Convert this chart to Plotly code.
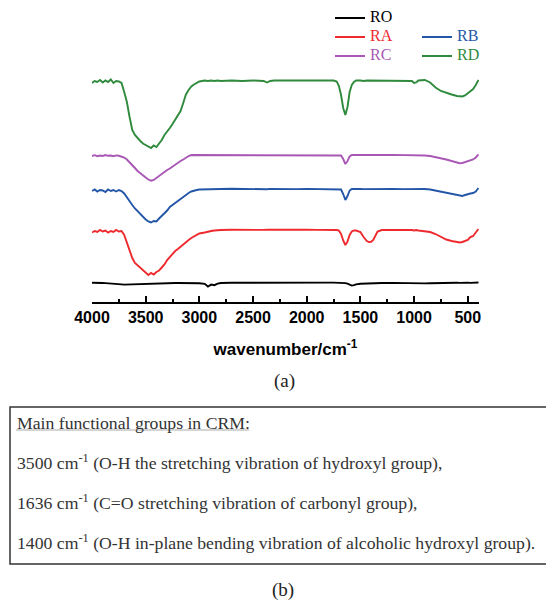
import plotly.graph_objects as go

# FTIR spectra of the CRM samples (stacked, transmittance in arbitrary units)
wavenumber = [
    4000, 3975, 3950, 3925, 3900, 3875, 3850, 3825, 3800, 3775,
    3750, 3725, 3700, 3675, 3650, 3625, 3600, 3575, 3550, 3525,
    3500, 3475, 3450, 3425, 3400, 3375, 3350, 3325, 3300, 3275,
    3250, 3225, 3200, 3175, 3150, 3125, 3100, 3075, 3050, 3025,
    3000, 2950, 2920, 2890, 2860, 2830, 2800, 2700, 2600, 2500,
    2400, 2370, 2340, 2300, 2200, 2100, 2000, 1900, 1800, 1750,
    1720, 1700, 1680, 1660, 1640, 1620, 1600, 1580, 1560, 1540,
    1500, 1470, 1440, 1420, 1400, 1380, 1360, 1340, 1300, 1200,
    1100, 1050, 1020, 1000, 980, 960, 900, 850, 800, 750,
    700, 650, 600, 575, 550, 525, 500, 475, 450, 425, 400,
]

ro = [
    19.3, 19.4, 19.1, 19.2, 19.0, 18.9, 18.8, 18.6, 18.5, 18.3,
    18.0, 17.6, 17.4, 17.5, 17.8, 18.0, 18.2, 18.3, 18.4, 18.5,
    18.5, 18.6, 18.6, 18.7, 18.7, 18.8, 18.8, 18.8, 18.9, 18.9,
    18.9, 19.0, 19.0, 19.0, 19.0, 19.0, 19.1, 19.0, 19.0, 18.9,
    18.8, 18.2, 15.5, 17.4, 16.8, 18.4, 19.0, 19.2, 19.3, 19.3,
    19.4, 19.3, 19.4, 19.4, 19.3, 19.4, 19.4, 19.3, 19.4, 19.4,
    19.3, 19.4, 19.3, 19.2, 18.9, 18.3, 17.0, 16.4, 16.8, 17.6,
    18.2, 18.4, 18.6, 18.7, 18.8, 18.8, 18.9, 18.9, 19.0, 19.1,
    18.8, 18.5, 18.3, 18.2, 18.2, 18.3, 18.6, 18.8, 19.0, 19.1,
    19.1, 19.2, 19.2, 19.1, 19.3, 19.2, 19.3, 19.1, 19.4, 19.2, 19.5,
]

ra = [
    69.5, 71.0, 70.0, 72.0, 70.5, 71.5, 69.5, 71.0, 70.0, 72.0,
    70.5, 71.0, 67.0, 59.0, 51.0, 44.0, 39.0, 36.5, 33.5, 31.0,
    28.5, 27.0, 29.0, 27.5, 30.0, 31.5, 34.5, 37.5, 42.0, 45.0,
    48.5, 51.0, 53.0, 55.5, 57.5, 59.5, 62.0, 64.0, 65.5, 67.5,
    68.5, 69.5, 70.5, 71.0, 71.5, 72.0, 72.0, 72.3, 72.0, 72.4,
    72.1, 72.3, 72.0, 72.2, 72.4, 72.0, 72.3, 72.1, 72.2, 72.0,
    72.0, 71.5, 68.0, 61.5, 57.0, 60.5, 67.0, 70.5, 71.5, 71.5,
    70.0, 65.0, 61.0, 60.0, 60.2, 62.0, 66.5, 70.5, 72.0, 72.2,
    72.0, 72.3, 72.0, 71.5, 72.0, 71.5, 71.0, 70.0, 68.0, 65.5,
    62.5, 61.0, 59.5, 59.5, 60.0, 61.0, 62.0, 65.0, 66.0, 69.5, 73.0,
]

rb = [
    111.0, 112.5, 110.5, 112.0, 111.5, 110.0, 112.5, 111.0, 112.0, 110.5,
    112.0, 111.0, 108.5, 104.5, 100.0, 97.0, 93.5, 90.5, 87.5, 85.0,
    82.5, 80.5, 79.5, 81.0, 80.5, 83.5, 86.0, 88.5, 91.5, 95.0,
    97.0, 99.5, 101.0, 103.0, 105.0, 107.0, 109.0, 110.5, 111.5, 112.0,
    112.5, 112.8, 113.0, 112.7, 113.0, 112.8, 113.0, 113.2, 112.9, 113.1,
    113.0, 112.8, 113.1, 113.0, 113.2, 112.9, 113.1, 113.0, 113.2, 113.0,
    113.0, 112.8, 112.5, 108.0, 102.0, 106.0, 111.5, 113.0, 113.2, 113.0,
    113.1, 112.9, 113.0, 113.1, 112.9, 113.0, 113.1, 113.0, 113.0, 113.1,
    112.9, 113.0, 112.8, 112.6, 112.8, 113.0, 113.0, 112.5, 111.5, 110.5,
    109.5, 108.5, 107.0, 106.5, 106.0, 107.0, 108.0, 108.5, 109.0, 110.5, 114.0,
]

rc = [
    146.0, 146.8, 145.8, 146.5, 146.0, 147.0, 146.2, 146.5, 145.8, 146.6,
    146.2, 145.5, 144.5, 142.5, 140.0, 137.0, 134.0, 131.0, 128.5, 126.5,
    124.5, 122.5, 121.3, 122.0, 124.0, 126.5, 128.0, 130.0, 132.0, 133.5,
    135.5, 137.0, 139.0, 141.0, 142.5, 144.5, 146.0, 147.0, 147.0, 147.2,
    147.0, 147.1, 146.9, 147.2, 147.0, 147.1, 146.9, 147.2, 147.0, 147.1,
    147.0, 146.9, 147.2, 147.0, 147.1, 146.9, 147.2, 147.0, 147.1, 147.0,
    147.0, 146.8, 146.5, 143.0, 138.0, 141.0, 145.5, 147.0, 147.1, 147.0,
    147.2, 146.9, 147.0, 147.1, 147.0, 146.9, 147.1, 147.0, 147.0, 147.1,
    146.9, 147.0, 147.1, 147.0, 146.9, 147.0, 146.5, 146.0, 145.0, 143.5,
    142.5, 141.0, 139.5, 138.8, 139.0, 139.8, 140.5, 141.5, 142.5, 144.5, 147.5,
]

rd = [
    219.0, 221.0, 220.0, 222.0, 219.5, 221.5, 220.0, 222.5, 219.0, 221.0,
    220.5, 219.0, 210.0, 200.0, 185.0, 172.0, 167.0, 163.5, 161.0, 158.5,
    157.0, 155.5, 154.0, 156.5, 155.0, 158.5, 162.0, 167.0, 170.0, 174.0,
    178.0, 182.0, 186.5, 191.0, 199.0, 207.5, 212.0, 215.5, 217.5, 219.0,
    220.5, 221.5, 221.0, 221.5, 221.0, 221.5, 221.0, 221.5, 221.0, 221.5,
    221.0, 219.5, 221.0, 221.5, 221.5, 221.2, 221.5, 221.3, 221.5, 221.5,
    220.5, 216.0, 207.0, 194.0, 187.0, 195.0, 210.0, 217.0, 220.0, 221.5,
    221.5, 221.0, 221.5, 221.5, 221.5, 221.0, 221.5, 221.5, 221.5, 221.0,
    221.0, 221.5, 221.0, 219.0, 219.5, 221.5, 222.0, 219.5, 214.5, 211.0,
    209.0, 207.5, 206.0, 205.5, 205.5, 206.5, 209.0, 211.0, 213.0, 217.0, 222.0,
]

series_names = ["RO", "RA", "RB", "RC", "RD"]
series_values = [ro, ra, rb, rc, rd]
series_colors = ["#000000", "#ee2a2e", "#2456a8", "#a858b4", "#2f8a3c"]
series_legend = ["legend", "legend", "legend2", "legend", "legend2"]

functional_groups_title = "Main functional groups in CRM:"
functional_groups = [
    "3500 cm<sup>-1</sup> (O-H the stretching vibration of hydroxyl group),",
    "1636 cm<sup>-1</sup> (C=O stretching vibration of carbonyl group),",
    "1400 cm<sup>-1</sup> (O-H in-plane bending vibration of alcoholic hydroxyl group).",
]

SERIF = "Liberation Serif, Times New Roman, serif"
SANS = "Liberation Sans, Arial, sans-serif"

fig = go.Figure()
for name, vals, color, leg in zip(series_names, series_values, series_colors, series_legend):
    fig.add_trace(go.Scatter(
        x=wavenumber, y=vals, mode="lines",
        line=dict(color=color, width=1.9),
        name=f"<span style='color:{color};font-size:16px'>{name}</span>",
        legend=leg,
    ))

# paper-coordinate helpers for the layout below the plot (plot area: x 92..479 px, y 62..302 px)
def px(x):
    return (x - 92) / 387

def py(y):
    return (302 - y) / 240

annotations = [
    dict(text="(a)", x=px(284), y=py(381), font=dict(family=SERIF, size=19, color="#222")),
    dict(text="(b)", x=px(283), y=py(590), font=dict(family=SERIF, size=19, color="#222")),
    dict(text=functional_groups_title, x=px(15), y=py(423), xanchor="left",
         font=dict(family=SERIF, size=17.7, color="#333")),
]
for i, line in enumerate(functional_groups):
    annotations.append(dict(text=line, x=px(15), y=py(462 + 40 * i), xanchor="left",
                            font=dict(family=SERIF, size=17.7, color="#333")))
for a in annotations:
    a.update(xref="paper", yref="paper", showarrow=False, yanchor=a.get("yanchor", "middle"))
    a.setdefault("xanchor", "center")

shapes = [
    dict(type="rect", xref="paper", yref="paper", x0=px(10), x1=px(549), y0=py(407), y1=py(564),
         line=dict(color="#333", width=1.5)),
    dict(type="line", xref="paper", yref="paper", x0=px(16), x1=px(249), y0=py(430), y1=py(430),
         line=dict(color="#aaa", width=1)),
]

fig.update_layout(
    width=546, height=604,
    margin=dict(l=92, r=67, t=62, b=302, autoexpand=False),
    paper_bgcolor="white", plot_bgcolor="white",
    showlegend=True,
    legend=dict(x=px(330), y=py(37), xanchor="left", yanchor="middle",
                font=dict(family=SERIF, size=11), bgcolor="rgba(0,0,0,0)",
                traceorder="normal", tracegroupgap=0,
                itemclick=False, itemdoubleclick=False),
    legend2=dict(x=px(417), y=py(46.5), xanchor="left", yanchor="middle",
                 font=dict(family=SERIF, size=11), bgcolor="rgba(0,0,0,0)",
                 traceorder="normal", tracegroupgap=0,
                 itemclick=False, itemdoubleclick=False),
    annotations=annotations,
    shapes=shapes,
)

fig.update_xaxes(
    range=[4000, 395], tick0=500, dtick=500,
    ticks="inside", ticklen=6, tickwidth=1.5, tickcolor="black",
    minor=dict(ticks="inside", ticklen=3, tickwidth=1.5, tickcolor="black", tick0=250, dtick=250),
    showline=True, linewidth=1.5, linecolor="black",
    showgrid=False, zeroline=False,
    tickfont=dict(family=SANS, size=16, color="black", weight="bold"),
    title=dict(text="wavenumber/cm<sup>-1</sup>", standoff=18,
               font=dict(family=SANS, size=17, color="black", weight="bold")),
)
fig.update_yaxes(visible=False, range=[0, 240])

fig.write_html("out.html")
